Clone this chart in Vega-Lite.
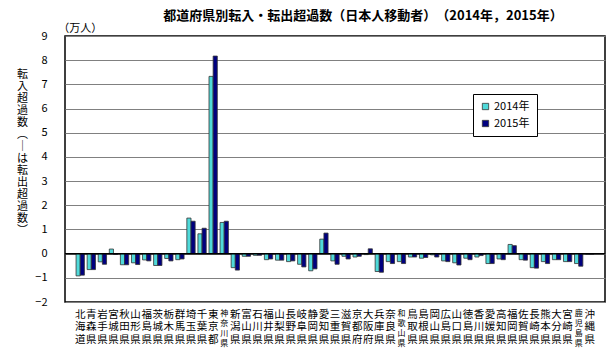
{
  "$schema": "https://vega.github.io/schema/vega-lite/v6.json",
  "width": 540,
  "height": 266,
  "autosize": {"type": "none"},
  "padding": {"left": 65, "top": 36, "right": 7, "bottom": 46},
  "background": "white",
  "config": {
    "font": "Noto Sans CJK JP",
    "view": {"stroke": "#000", "strokeWidth": 1.5}
  },
  "title": {
    "text": "都道府県別転入・転出超過数（日本人移動者）　（2014年，2015年）",
    "anchor": "middle",
    "dx": 28,
    "offset": 0,
    "fontSize": 13,
    "fontWeight": "bold",
    "color": "#000"
  },
  "data": {
    "values": [
      {"pref": "北海道", "year": "2014年", "value": -0.92}, {"pref": "北海道", "year": "2015年", "value": -0.89},
      {"pref": "青森県", "year": "2014年", "value": -0.66}, {"pref": "青森県", "year": "2015年", "value": -0.66},
      {"pref": "岩手県", "year": "2014年", "value": -0.34}, {"pref": "岩手県", "year": "2015年", "value": -0.44},
      {"pref": "宮城県", "year": "2014年", "value": 0.19}, {"pref": "宮城県", "year": "2015年", "value": -0.03},
      {"pref": "秋田県", "year": "2014年", "value": -0.46}, {"pref": "秋田県", "year": "2015年", "value": -0.46},
      {"pref": "山形県", "year": "2014年", "value": -0.38}, {"pref": "山形県", "year": "2015年", "value": -0.45},
      {"pref": "福島県", "year": "2014年", "value": -0.26}, {"pref": "福島県", "year": "2015年", "value": -0.3},
      {"pref": "茨城県", "year": "2014年", "value": -0.49}, {"pref": "茨城県", "year": "2015年", "value": -0.49},
      {"pref": "栃木県", "year": "2014年", "value": -0.2}, {"pref": "栃木県", "year": "2015年", "value": -0.3},
      {"pref": "群馬県", "year": "2014年", "value": -0.25}, {"pref": "群馬県", "year": "2015年", "value": -0.22},
      {"pref": "埼玉県", "year": "2014年", "value": 1.47}, {"pref": "埼玉県", "year": "2015年", "value": 1.34},
      {"pref": "千葉県", "year": "2014年", "value": 0.82}, {"pref": "千葉県", "year": "2015年", "value": 1.05},
      {"pref": "東京都", "year": "2014年", "value": 7.33}, {"pref": "東京都", "year": "2015年", "value": 8.17},
      {"pref": "神奈川県", "year": "2014年", "value": 1.29}, {"pref": "神奈川県", "year": "2015年", "value": 1.34},
      {"pref": "新潟県", "year": "2014年", "value": -0.58}, {"pref": "新潟県", "year": "2015年", "value": -0.68},
      {"pref": "富山県", "year": "2014年", "value": -0.11}, {"pref": "富山県", "year": "2015年", "value": -0.11},
      {"pref": "石川県", "year": "2014年", "value": -0.07}, {"pref": "石川県", "year": "2015年", "value": -0.07},
      {"pref": "福井県", "year": "2014年", "value": -0.25}, {"pref": "福井県", "year": "2015年", "value": -0.22},
      {"pref": "山梨県", "year": "2014年", "value": -0.27}, {"pref": "山梨県", "year": "2015年", "value": -0.27},
      {"pref": "長野県", "year": "2014年", "value": -0.33}, {"pref": "長野県", "year": "2015年", "value": -0.3},
      {"pref": "岐阜県", "year": "2014年", "value": -0.44}, {"pref": "岐阜県", "year": "2015年", "value": -0.55},
      {"pref": "静岡県", "year": "2014年", "value": -0.71}, {"pref": "静岡県", "year": "2015年", "value": -0.63},
      {"pref": "愛知県", "year": "2014年", "value": 0.6}, {"pref": "愛知県", "year": "2015年", "value": 0.85},
      {"pref": "三重県", "year": "2014年", "value": -0.3}, {"pref": "三重県", "year": "2015年", "value": -0.44},
      {"pref": "滋賀県", "year": "2014年", "value": -0.11}, {"pref": "滋賀県", "year": "2015年", "value": -0.22},
      {"pref": "京都府", "year": "2014年", "value": -0.14}, {"pref": "京都府", "year": "2015年", "value": -0.11},
      {"pref": "大阪府", "year": "2014年", "value": -0.04}, {"pref": "大阪府", "year": "2015年", "value": 0.2},
      {"pref": "兵庫県", "year": "2014年", "value": -0.74}, {"pref": "兵庫県", "year": "2015年", "value": -0.77},
      {"pref": "奈良県", "year": "2014年", "value": -0.33}, {"pref": "奈良県", "year": "2015年", "value": -0.41},
      {"pref": "和歌山県", "year": "2014年", "value": -0.33}, {"pref": "和歌山県", "year": "2015年", "value": -0.41},
      {"pref": "鳥取県", "year": "2014年", "value": -0.14}, {"pref": "鳥取県", "year": "2015年", "value": -0.14},
      {"pref": "島根県", "year": "2014年", "value": -0.19}, {"pref": "島根県", "year": "2015年", "value": -0.16},
      {"pref": "岡山県", "year": "2014年", "value": -0.05}, {"pref": "岡山県", "year": "2015年", "value": -0.14},
      {"pref": "広島県", "year": "2014年", "value": -0.3}, {"pref": "広島県", "year": "2015年", "value": -0.33},
      {"pref": "山口県", "year": "2014年", "value": -0.38}, {"pref": "山口県", "year": "2015年", "value": -0.47},
      {"pref": "徳島県", "year": "2014年", "value": -0.19}, {"pref": "徳島県", "year": "2015年", "value": -0.25},
      {"pref": "香川県", "year": "2014年", "value": -0.14}, {"pref": "香川県", "year": "2015年", "value": -0.08},
      {"pref": "愛媛県", "year": "2014年", "value": -0.41}, {"pref": "愛媛県", "year": "2015年", "value": -0.41},
      {"pref": "高知県", "year": "2014年", "value": -0.22}, {"pref": "高知県", "year": "2015年", "value": -0.25},
      {"pref": "福岡県", "year": "2014年", "value": 0.38}, {"pref": "福岡県", "year": "2015年", "value": 0.33},
      {"pref": "佐賀県", "year": "2014年", "value": -0.25}, {"pref": "佐賀県", "year": "2015年", "value": -0.27},
      {"pref": "長崎県", "year": "2014年", "value": -0.58}, {"pref": "長崎県", "year": "2015年", "value": -0.6},
      {"pref": "熊本県", "year": "2014年", "value": -0.33}, {"pref": "熊本県", "year": "2015年", "value": -0.41},
      {"pref": "大分県", "year": "2014年", "value": -0.25}, {"pref": "大分県", "year": "2015年", "value": -0.25},
      {"pref": "宮崎県", "year": "2014年", "value": -0.33}, {"pref": "宮崎県", "year": "2015年", "value": -0.33},
      {"pref": "鹿児島県", "year": "2014年", "value": -0.41}, {"pref": "鹿児島県", "year": "2015年", "value": -0.52},
      {"pref": "沖縄県", "year": "2014年", "value": -0.02}, {"pref": "沖縄県", "year": "2015年", "value": -0.02}
    ]
  },
  "layer": [
    {
      "mark": {"type": "bar", "stroke": "#333", "strokeWidth": 0.8},
      "encoding": {
        "x": {
          "field": "pref",
          "type": "nominal",
          "sort": null,
          "scale": {"paddingInner": 0.25, "paddingOuter": 1.14},
          "axis": {
            "title": null,
            "labelAngle": 0,
            "labelExpr": "split(datum.label, '')",
            "labelFontSize": {"condition": {"test": "length(datum.value) > 3", "value": 8}, "value": 10.5},
            "labelBaseline": "top",
            "labelPadding": 7,
            "labelColor": "#000",
            "labelOverlap": false,
            "labelBound": false,
            "ticks": false,
            "domain": false
          }
        },
        "xOffset": {"field": "year", "type": "nominal"},
        "y": {
          "field": "value",
          "type": "quantitative",
          "scale": {"domain": [-2, 9], "nice": false, "zero": false},
          "axis": {
            "values": [-2, -1, 0, 1, 2, 3, 4, 5, 6, 7, 8, 9],
            "tickCount": 20,
            "format": "d",
            "grid": true,
            "gridColor": "#808080",
            "gridWidth": 1,
            "domain": false,
            "ticks": false,
            "labelOverlap": false,
            "labelFlush": false,
            "labelPadding": 18,
            "labelFontSize": 11,
            "labelColor": "#000",
            "title": ["転", "入", "超", "過", "数", "︵", "｜", "は", "転", "出", "超", "過", "数", "︶"],
            "titleAngle": 0,
            "titleAlign": "center",
            "titleBaseline": "top",
            "titleX": -43,
            "titleY": 32,
            "titleFontSize": 11,
            "titleFontWeight": "normal",
            "titleLineHeight": 12,
            "titleColor": "#000"
          }
        },
        "color": {
          "field": "year",
          "type": "nominal",
          "scale": {"domain": ["2014年", "2015年"], "range": ["#4fdada", "#000080"]},
          "legend": {
            "title": null,
            "orient": "none",
            "legendX": 408,
            "legendY": 58,
            "padding": 7,
            "strokeColor": "#000",
            "fillColor": "#fff",
            "symbolType": "square",
            "symbolSize": 40,
            "symbolStrokeColor": "#333",
            "symbolStrokeWidth": 0.8,
            "labelFontSize": 11,
            "labelColor": "#000",
            "labelOffset": 3,
            "rowPadding": 5
          }
        }
      }
    },
    {
      "data": {"values": [{}]},
      "mark": {"type": "rule", "color": "#000", "strokeWidth": 1.5},
      "encoding": {
        "y": {"datum": 0, "type": "quantitative"}
      }
    },
    {
      "data": {"values": [{}]},
      "mark": {"type": "text", "text": "（万人）", "fontSize": 11, "baseline": "bottom", "align": "center", "dy": -2, "color": "#000"},
      "encoding": {
        "x": {"datum": "北海道"},
        "y": {"datum": 9, "type": "quantitative"}
      }
    }
  ]
}
